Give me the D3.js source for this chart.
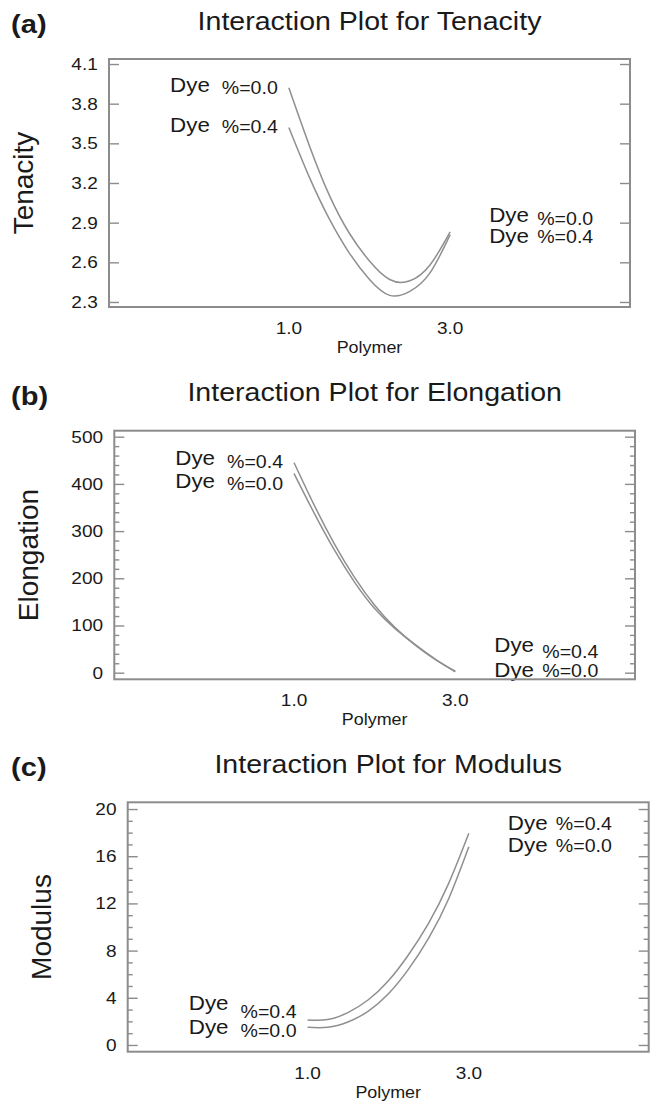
<!DOCTYPE html>
<html>
<head>
<meta charset="utf-8">
<script src="https://cdn.jsdelivr.net/npm/d3@7"></script>
<style>
  body { margin: 0; background: #fff; }
  text { font-family: "Liberation Sans", Arial, Helvetica, sans-serif; fill: #1a1a1a; }
</style>
</head>
<body>
<div id="chart"></div>
<script>
const width = 652;
const height = 1103;
const SX = 1.12; // the scanned figure is a bit wider than tall

// polymer levels where the curves were read
const polymer = [1.0, 1.25, 1.5, 1.75, 2.0, 2.25, 2.5, 2.75, 3.0];
const xTickValues = [1.0, 3.0];

const tenacityDye00 = [3.92, 3.49, 3.11, 2.82, 2.61, 2.47, 2.46, 2.58, 2.83];
const tenacityDye04 = [3.62, 3.25, 2.93, 2.67, 2.47, 2.35, 2.38, 2.52, 2.81];
const elongationDye00 = [422, 338, 260, 192, 136, 94, 60, 29, 3];
const elongationDye04 = [445, 355, 273, 202, 143, 96, 59, 28, 2];
const modulusDye00 = [1.5, 1.5, 1.95, 2.85, 4.32, 6.41, 9.04, 12.4, 16.8];
const modulusDye04 = [2.12, 2.15, 2.74, 3.81, 5.42, 7.63, 10.31, 13.7, 17.94];

const tenacityTicks = [2.3, 2.6, 2.9, 3.2, 3.5, 3.8, 4.1];
const elongationTicks = [0, 100, 200, 300, 400, 500];
const modulusTicks = [0, 4, 8, 12, 16, 20];

const panels = [
  {
    tag: "(a)", title: "Interaction Plot for Tenacity", yLabel: "Tenacity",
    left: 109, top: 59, w: 521, h: 248,
    yDomain: [2.262, 4.138], ticks: tenacityTicks, minorStep: null, fmt: d3.format(".1f"),
    series: [
      { dye: "0.0", values: tenacityDye00, l: [32.7, 35], r: [162.7, 166] },
      { dye: "0.4", values: tenacityDye04, l: [72.7, 74.3], r: [184.3, 184.3] }
    ]
  },
  {
    tag: "(b)", title: "Interaction Plot for Elongation", yLabel: "Elongation",
    left: 114.3, top: 430.7, w: 520.7, h: 248.6,
    yDomain: [-14, 512.7], ticks: elongationTicks, minorStep: 20, fmt: d3.format("d"),
    series: [
      { dye: "0.4", values: elongationDye04, l: [34.3, 37.6], r: [221, 227.6] },
      { dye: "0.0", values: elongationDye00, l: [57.6, 59.3], r: [246.3, 246.3] }
    ]
  },
  {
    tag: "(c)", title: "Interaction Plot for Modulus", yLabel: "Modulus",
    left: 127.7, top: 802.3, w: 521, h: 249.4,
    yDomain: [-0.57, 20.57], ticks: modulusTicks, minorStep: 1, fmt: d3.format("d"),
    series: [
      { dye: "0.4", values: modulusDye04, l: [207.7, 216], r: [27.7, 27.7] },
      { dye: "0.0", values: modulusDye00, l: [231.7, 234.4], r: [49.4, 49.4] }
    ]
  }
];

const grey = "#8c8c8c";

let svg = d3.select("#chart")
  .append("svg")
  .attr("width", width)
  .attr("height", height)
  .style("background", "#fff");

function addText(g, x, y, str, size, anchor, weight) {
  return g.append("text")
    .attr("transform", `translate(${x},${y}) scale(${SX},1)`)
    .attr("text-anchor", anchor || "start")
    .style("font-size", size + "px")
    .style("font-weight", weight || "normal")
    .text(str);
}

panels.forEach((p) => {
  const g = svg.append("g");
  const right = p.left + p.w;
  const bottom = p.top + p.h;

  const x = d3.scaleLinear().domain([-1.23, 5.23]).range([p.left, right]);
  const y = d3.scaleLinear().domain(p.yDomain).range([bottom, p.top]);

  // panel tag and title
  addText(g, 11, p.top - 26, p.tag, 26, "start", "bold");
  addText(g, p.left + p.w / 2, p.top - 29.5, p.title, 25.5, "middle");

  // y axis label
  g.append("text")
    .attr("transform", `translate(${p.left - 76.5},${p.top + p.h / 2}) rotate(-90)`)
    .attr("text-anchor", "middle")
    .style("font-size", "28px")
    .text(p.yLabel);

  // minor ticks, both sides
  if (p.minorStep) {
    const minor = d3.range(p.ticks[0], p.ticks[p.ticks.length - 1] + 0.001, p.minorStep)
      .filter((v) => !p.ticks.includes(v));
    g.append("g")
      .attr("transform", `translate(${p.left},0)`)
      .call(d3.axisLeft(y).tickValues(minor).tickSize(-5).tickFormat(""));
    g.append("g")
      .attr("transform", `translate(${right},0)`)
      .call(d3.axisRight(y).tickValues(minor).tickSize(-5).tickFormat(""));
  }

  // major ticks
  const yAxis = g.append("g")
    .attr("class", "y-axis")
    .attr("transform", `translate(${p.left},0)`)
    .call(d3.axisLeft(y).tickValues(p.ticks).tickSize(-10).tickPadding(10).tickFormat(p.fmt));
  yAxis.selectAll(".tick text")
    .attr("transform", `scale(${SX},1)`)
    .style("font-size", "17px")
    .attr("fill", "#1a1a1a");

  g.append("g")
    .attr("transform", `translate(${right},0)`)
    .call(d3.axisRight(y).tickValues(p.ticks).tickSize(-10).tickFormat(""));

  g.selectAll(".domain").remove();
  g.selectAll(".tick line").attr("stroke", grey).attr("stroke-width", 1.4);

  // x tick labels and axis title
  xTickValues.forEach((v) => {
    addText(g, x(v), bottom + 27, d3.format(".1f")(v), 17, "middle");
  });
  addText(g, p.left + p.w / 2, bottom + 46, "Polymer", 16, "middle");

  // curves
  const line = d3.line()
    .x((d, i) => x(polymer[i]))
    .y((d) => y(d))
    .curve(d3.curveNatural);

  p.series.forEach((s) => {
    g.append("path")
      .datum(s.values)
      .attr("d", line)
      .attr("fill", "none")
      .attr("stroke", "#8f8f8f")
      .attr("stroke-width", 1.5);

    // labels at the start (polymer 1.0) and end (polymer 3.0)
    addText(g, x(1.0) - 79, p.top + s.l[0], "Dye", 20, "end");
    addText(g, x(1.0) - 11, p.top + s.l[1], "%=" + s.dye, 17.5, "end");
    addText(g, x(3.0) + 39, p.top + s.r[0], "Dye", 20, "start");
    addText(g, x(3.0) + 87, p.top + s.r[1], "%=" + s.dye, 17.5, "start");
  });

  // frame
  g.append("rect")
    .attr("x", p.left)
    .attr("y", p.top)
    .attr("width", p.w)
    .attr("height", p.h)
    .attr("fill", "none")
    .attr("stroke", grey)
    .attr("stroke-width", 2);
});
</script>
</body>
</html>
